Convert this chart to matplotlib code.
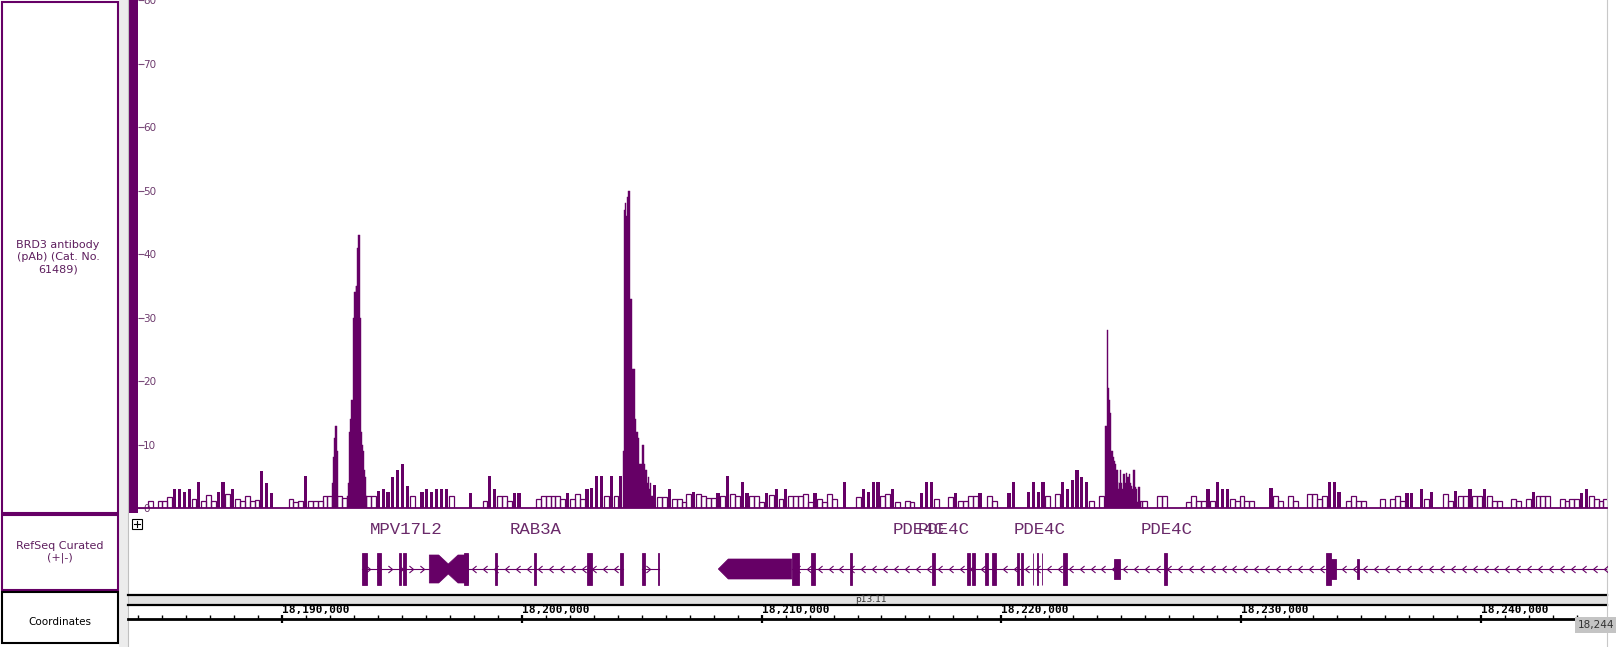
import numpy as np
import matplotlib.pyplot as plt
from matplotlib.patches import Rectangle, Polygon
from matplotlib.path import Path

W, H = 1616, 647
PURPLE = '#660066'
LABEL = '#5e1f5e'

# genomic window shown (kb)
view_start, view_end = 18183.982, 18244.547

# background signal, 0.2 kb bins from 18,184.0 kb
bin_start = 18184.0
bin_size = 0.2
bg_vals = [
    0, 0, 1.2, 0, 1.1, 1.1, 1.8, 3, 3, 2.5,
    3, 1.5, 4.1, 1.2, 2.1, 1.2, 2.5, 4.1, 2.2, 3,
    1.5, 1.1, 2.0, 1.2, 1.3, 5.8, 4.0, 2.4, 0, 0,
    0, 1.5, 1.0, 1.1, 5.1, 1.1, 1.1, 1.1, 2.0, 2.0,
    0, 2.0, 1.6, 0, 0, 0, 0, 2.0, 2.0, 2.8,
    3.0, 2.6, 5.0, 6.1, 7.0, 3.5, 2.0, 0, 2.5, 3.0,
    2.5, 3.0, 3.0, 3.0, 2.0, 0, 0, 0, 2.4, 0,
    0, 1.2, 5.1, 3.0, 2.0, 2.0, 1.2, 2.4, 2.4, 0,
    0, 0, 1.5, 1.9, 1.9, 1.9, 1.9, 1.5, 2.4, 1.5,
    2.2, 1.5, 3.0, 3.2, 5.1, 5.1, 2.0, 5.1, 2.0, 5.1,
    0, 0, 0, 0, 0, 0, 3.7, 1.8, 1.8, 3.0,
    1.5, 1.5, 1.0, 2.2, 2.6, 2.2, 2.0, 1.6, 1.6, 2.4,
    2.0, 5.1, 2.2, 2.0, 4.2, 2.4, 2.0, 2.0, 1.0, 2.4,
    2.1, 3.0, 1.5, 3.0, 2.0, 2.0, 2.0, 2.2, 1.0, 2.4,
    1.5, 1.0, 2.2, 1.5, 0, 4.1, 0, 0, 1.8, 3.0,
    2.5, 4.1, 4.1, 2.0, 2.2, 3.0, 1.0, 0, 1.2, 1.0,
    0, 2.4, 4.1, 4.1, 1.5, 0, 0, 1.8, 2.4, 1.2,
    1.2, 2.0, 2.0, 2.4, 0, 2.0, 1.2, 0, 0, 2.4,
    4.1, 0, 0, 2.5, 4.1, 2.5, 4.1, 2.0, 0, 2.2,
    4.1, 3.0, 4.4, 6.0, 5.0, 4.1, 1.2, 0, 2.0, 0,
    0, 0, 0, 0, 0, 0, 1.2, 1.2, 0, 0,
    2.0, 2.0, 0, 0, 0, 0, 1.0, 2.0, 1.2, 1.2,
    3.0, 1.2, 4.1, 3.0, 3.0, 1.5, 1.2, 2.0, 1.2, 1.2,
    0, 0, 0, 3.2, 2.0, 1.2, 0, 2.0, 1.2, 0,
    0, 2.2, 2.2, 1.5, 2.0, 4.1, 4.1, 2.5, 0, 1.2,
    2.0, 1.2, 1.2, 0, 0, 0, 1.5, 0, 1.5, 2.0,
    1.2, 2.4, 2.4, 0, 3.0, 1.5, 2.5, 0, 0, 2.2,
    1.2, 2.8, 2.0, 2.0, 3.0, 2.0, 2.0, 3.0, 2.0, 1.2,
    1.2, 0, 0, 1.5, 1.2, 0, 1.5, 2.5, 2.0, 2.0,
    2.0, 0, 0, 1.5, 1.2, 1.5, 1.5, 2.4, 3.0, 2.0,
    1.5, 1.2, 1.5,
]

# peaks, fine 0.04 kb bins
peak_step = 0.04
peak_starts = [18191.98, 18192.60, 18203.99, 18223.85]
peak0_vals = [4, 8, 11, 13, 13, 9]
peak1_vals = [2, 4, 12, 14, 17, 17, 30, 34, 34, 35, 35, 41, 43, 43, 30, 12, 10, 9, 6, 5, 2]
peak2_vals = [9, 47, 48, 46, 49, 50, 50, 33, 33, 22, 22, 22, 14, 12, 12, 11, 7, 7, 7, 7,
              10, 10, 7, 6, 6, 4, 5, 3, 4, 2, 2]
peak3_vals = [13, 13, 28, 19, 17, 15, 9, 9, 8, 7.5, 7, 6, 6, 4.2, 3, 4, 6, 4, 3, 5.4,
              5.4, 4, 5.6, 5, 5, 5.4, 4, 3.5, 3, 6, 6, 3.3, 3, 1, 3.3, 3.3, 1]
peak_vals = [peak0_vals, peak1_vals, peak2_vals, peak3_vals]

y_ticks = [0, 10, 20, 30, 40, 50, 60, 70, 80]

# RefSeq genes (kb)
exon_start = [18193.215, 18193.833, 18194.765, 18194.930, 18197.43, 18198.710, 18200.318,
              18202.490, 18203.862, 18204.757, 18205.441, 18210.940, 18211.735, 18213.343,
              18216.723, 18218.153, 18218.359, 18218.908, 18219.209, 18220.214, 18220.379,
              18220.890, 18221.070, 18221.250, 18222.111, 18224.238, 18226.286, 18232.963,
              18233.169, 18234.229]
exon_end = [18193.421, 18193.998, 18194.823, 18195.029, 18197.609, 18198.805, 18200.400,
            18202.696, 18203.973, 18204.893, 18205.482, 18211.241, 18211.900, 18213.425,
            18216.847, 18218.289, 18218.495, 18219.019, 18219.349, 18220.297, 18220.462,
            18220.905, 18221.085, 18221.265, 18222.276, 18224.473, 18226.422, 18233.169,
            18233.375, 18234.337]
exon_kind = ['cds'] * 25 + ['utr', 'cds', 'cds', 'utr', 'utr']

intron_start = [18193.215, 18197.609, 18204.757, 18210.940]
intron_end = [18197.609, 18203.973, 18205.482, 18244.6]
intron_strand = ['+', '-', '+', '-']

mpv_bowtie = [18196.002, 18196.389, 18196.785, 18197.185, 18197.609]
pde_block = [18207.914, 18208.326, 18210.940]

gene_names = ['MPV17L2', 'RAB3A', 'PDE4C', 'PDE4C', 'PDE4C', 'PDE4C']
gene_label_kb = [18195.04, 18200.40, 18216.18, 18217.18, 18221.16, 18226.41]

major_kb = [18190, 18200, 18210, 18220, 18230, 18240]
major_labels = ['18,190,000', '18,200,000', '18,210,000', '18,220,000', '18,230,000', '18,240,000']
minor_kb = [k for k in range(18184, 18245) if k % 10 != 0]


def px_box(x0, y0, x1, y1):
    return [x0 / W, 1 - y1 / H, (x1 - x0) / W, (y1 - y0) / H]


fig = plt.figure(figsize=(W / 100, H / 100), dpi=100)

# page furniture in pixel coordinates
bg = fig.add_axes([0, 0, 1, 1])
bg.set_xlim(0, W)
bg.set_ylim(H, 0)
bg.axis('off')
bg.add_patch(Rectangle((119, 0), 8.5, H, fc='#ececec', ec='none'))
bg.plot([127.5, 127.5], [0, H], color='#c0c0c0', lw=0.8)
bg.add_patch(Rectangle((128.3, 0), 9.4, 513, fc=PURPLE, ec='none'))
bg.add_patch(Rectangle((2, 2), 116, 510.5, fill=False, ec=PURPLE, lw=1.5))
bg.add_patch(Rectangle((2, 515), 116, 74.5, fill=False, ec=PURPLE, lw=1.5))
bg.add_patch(Rectangle((2, 592), 116, 51, fill=False, ec='black', lw=1.5))
bg.add_patch(Rectangle((128, 595), 1479, 9.5, fc='#e2e2e2', ec='none'))
bg.plot([128, 1607], [594.5, 594.5], color='black', lw=1.6)
bg.plot([128, 1607], [605, 605], color='black', lw=1.6)
bg.plot([1607, 1607], [0, H], color='#c8c8c8', lw=0.8)
bg.add_patch(Rectangle((132.3, 519), 10, 10, fill=False, ec='black', lw=0.8))
bg.plot([134.3, 140.3], [524, 524], color='black', lw=0.8)
bg.plot([137.3, 137.3], [521, 527], color='black', lw=0.8)
bg.text(871, 599.5, 'p13.11', ha='center', va='center', fontsize=6.5, color='#333333')

fig.text(58 / W, 1 - 257 / H, 'BRD3 antibody\n(pAb) (Cat. No.\n61489)', ha='center', va='center',
         fontsize=8, color=LABEL, linespacing=1.3)
fig.text(60 / W, 1 - 552 / H, 'RefSeq Curated\n(+|-)', ha='center', va='center',
         fontsize=8, color=LABEL, linespacing=1.25)
fig.text(60 / W, 1 - 622 / H, 'Coordinates', ha='center', va='center', fontsize=7.5, color='black')
fig.text(1578 / W, 1 - 625 / H, '18,244', ha='left', va='center', fontsize=7.5, color='#333333',
         bbox=dict(fc='#c4c4c4', ec='none', pad=2))

# signal track
ax = fig.add_axes(px_box(137.7, 0, 1607, 508.3))
ax.set_facecolor('none')
ax.set_xlim(view_start, view_end)
ax.set_ylim(0, 80)
for s in ax.spines.values():
    s.set_visible(False)
ax.set_xticks([])

vals = np.array(bg_vals)
edges = bin_start + bin_size * np.arange(len(vals))
hollow = (vals > 0) & (vals < 2.3)
filled = vals >= 2.3
ax.bar(edges[hollow], vals[hollow], width=bin_size, align='edge', fill=False,
       edgecolor=PURPLE, linewidth=0.9)
ax.bar(edges[filled] + bin_size / 2, vals[filled], width=0.13, color=PURPLE, linewidth=0)
for start, pv in zip(peak_starts, peak_vals):
    xs = start + peak_step * np.arange(len(pv))
    ax.bar(xs, pv, width=peak_step, align='edge', color=PURPLE, edgecolor=PURPLE, linewidth=0.3)
ax.axhline(0, color=PURPLE, lw=1.3, clip_on=False)

ax.set_yticks(y_ticks)
ax.tick_params(axis='y', direction='in', length=4, width=0.8, color='#7a4a7a',
               labelcolor='#6e3b6e', labelsize=7.5, pad=-4)
plt.setp(ax.get_yticklabels(), ha='left')

# gene track (y in pixel units)
gx = fig.add_axes(px_box(137.7, 513, 1607, 592))
gx.set_facecolor('none')
gx.set_xlim(view_start, view_end)
gx.set_ylim(592, 513)
gx.axis('off')
yc = 569
chev_l = Path([(0.6, 1), (-0.6, 0), (0.6, -1)], [Path.MOVETO, Path.LINETO, Path.LINETO])
chev_r = Path([(-0.6, 1), (0.6, 0), (-0.6, -1)], [Path.MOVETO, Path.LINETO, Path.LINETO])
for s0, s1, strand in zip(intron_start, intron_end, intron_strand):
    gx.plot([s0, s1], [yc, yc], color=PURPLE, lw=0.8)
    xs = np.arange(s0 + 0.25, s1 - 0.1, 0.45)
    gx.plot(xs, [yc] * len(xs), linestyle='none', marker=chev_l if strand == '-' else chev_r,
            ms=5, mfc='none', mec=PURPLE, mew=0.8)
for s0, s1, kind in zip(exon_start, exon_end, exon_kind):
    h = 16 if kind == 'cds' else 10
    gx.bar(s0, 2 * h, bottom=yc - h, width=s1 - s0, align='edge', color=PURPLE,
           edgecolor=PURPLE, linewidth=0.6)
b = mpv_bowtie
gx.add_patch(Polygon([(b[0], yc - 14), (b[1], yc - 14), (b[2], yc - 5), (b[3], yc - 14), (b[4], yc - 14),
                      (b[4], yc + 14), (b[3], yc + 14), (b[2], yc + 5), (b[1], yc + 14), (b[0], yc + 14)],
                     closed=True, fc=PURPLE, ec=PURPLE, lw=0.5))
p = pde_block
gx.add_patch(Polygon([(p[0], yc), (p[1], yc - 10), (p[2], yc - 10), (p[2], yc + 10), (p[1], yc + 10)],
                     closed=True, fc=PURPLE, ec=PURPLE, lw=0.5))
for name, kb in zip(gene_names, gene_label_kb):
    gx.text(kb, 530, name, ha='center', va='center', fontsize=12.5, family='Liberation Mono',
            color='#6a2a6a', clip_on=False)

# coordinate ruler
px_per_kb = (1607 - 137.7) / (view_end - view_start)
cx = fig.add_axes(px_box(128, 605, 1577, 619.3))
cx.set_facecolor('none')
cx.set_xlim(view_start - 9.7 / px_per_kb, view_start + (1577 - 137.7) / px_per_kb)
cx.set_ylim(0, 1)
for s in ['top', 'left', 'right']:
    cx.spines[s].set_visible(False)
cx.spines['bottom'].set_linewidth(2)
cx.set_yticks([])
cx.set_xticks(major_kb)
cx.set_xticks(minor_kb, minor=True)
cx.tick_params(axis='x', which='major', direction='inout', length=6, width=1.6, labelbottom=False)
cx.tick_params(axis='x', which='minor', direction='in', length=3, width=1)
for kb, lab in zip(major_kb, major_labels):
    cx.text(kb, 0.62, lab, ha='left', va='center', fontsize=8, fontweight='bold',
            family='DejaVu Sans Mono', color='black')

fig.savefig('out.png', dpi=100)
